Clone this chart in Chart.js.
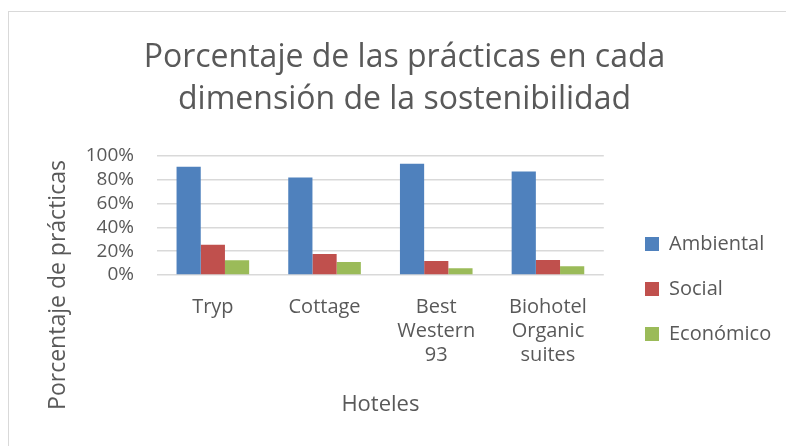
<!DOCTYPE html>
<html>
<head>
<meta charset="utf-8">
<script src="https://cdn.jsdelivr.net/npm/chart.js@4"></script>
<style>
  html, body { margin: 0; padding: 0; background: #fff; }
  #wrap { position: relative; width: 786px; height: 446px; }
  #marco { position: absolute; left: 8px; top: 11px; width: 800px; height: 460px;
           border-left: 1px solid #d9d9d9; border-top: 1px solid #d9d9d9; }
  canvas { position: absolute; left: 0; top: 0; }
</style>
</head>
<body>
<div id="wrap">
  <div id="marco"></div>
  <canvas id="grafico" width="786" height="446"></canvas>
</div>
<script>
// Datos
const hoteles = [['Tryp'], ['Cottage'], ['Best', 'Western', '93'], ['Biohotel', 'Organic', 'suites']];
const ambiental = [91, 82, 93.5, 87];
const social = [25.5, 17.7, 11.8, 12.6];
const economico = [12.4, 11, 5.6, 7.3];
const ticksY = [0, 20, 40, 60, 80, 100];

const gris = '#595959';
const fuente = 'Open Sans';

// mueve la leyenda a su sitio (caja del primer elemento en x=645, centro vertical ~289)
const moverLeyenda = {
    id: 'moverLeyenda',
    afterLayout(chart) {
        const ley = chart.legend;
        if (!ley) return;
        const pad = ley.options.labels.padding;
        const dx = (645 - pad) - ley.left;
        const dy = 289 - (ley.top + ley.bottom) / 2;
        ley.left += dx; ley.right += dx;
        ley.top += dy; ley.bottom += dy;
    }
};

// título del eje Y, más abajo que el centro del área del gráfico
const tituloEjeY = {
    id: 'tituloEjeY',
    afterDraw(chart) {
        const c = chart.ctx;
        c.save();
        c.translate(58, 285);
        c.rotate(-Math.PI / 2);
        c.font = '23px "' + fuente + '"';
        c.fillStyle = gris;
        c.textAlign = 'center';
        c.textBaseline = 'middle';
        c.fillText('Porcentaje de prácticas', 0, 0);
        c.restore();
    }
};

const ctx = document.getElementById('grafico').getContext('2d');
const grafico = new Chart(ctx, {
    type: 'bar',
    data: {
        labels: hoteles,
        datasets: [
            { label: 'Ambiental', data: ambiental, backgroundColor: '#4F81BD' },
            { label: 'Social', data: social, backgroundColor: '#C0504D' },
            { label: 'Económico', data: economico, backgroundColor: '#9BBB59' }
        ]
    },
    options: {
        responsive: false,
        animation: false,
        categoryPercentage: 0.65,
        barPercentage: 1,
        layout: { padding: { left: 44, right: 21, top: 0, bottom: 28 } },
        plugins: {
            title: {
                display: true,
                text: ['Porcentaje de las prácticas en cada', 'dimensión de la sostenibilidad'],
                color: gris,
                font: { family: fuente, size: 32, weight: 'normal', lineHeight: '42px' },
                padding: { top: 37, bottom: 35 }
            },
            legend: {
                position: 'right',
                labels: {
                    color: gris,
                    font: { family: fuente, size: 20 },
                    boxWidth: 14,
                    boxHeight: 14,
                    padding: 25
                }
            },
            tooltip: { enabled: false }
        },
        scales: {
            x: {
                afterFit: (eje) => { eje.height = 143; },
                grid: { display: false, drawTicks: false },
                border: { display: false },
                ticks: { color: gris, font: { family: fuente, size: 20, lineHeight: '24px' }, padding: 20, maxRotation: 0, autoSkip: false },
                title: { display: true, text: 'Hoteles', color: gris, font: { family: fuente, size: 22 }, padding: { top: 24, bottom: 0 } }
            },
            y: {
                min: 0,
                max: 100,
                afterBuildTicks: (eje) => { eje.ticks = ticksY.map(v => ({ value: v })); },
                afterFit: (eje) => { eje.width = 113; },
                grid: { color: '#d9d9d9', lineWidth: 1.5, drawTicks: false },
                border: { display: false },
                ticks: { color: gris, font: { family: fuente, size: 19 }, padding: 23, autoSkip: false, callback: v => v + '%' }
            }
        }
    },
    plugins: [moverLeyenda, tituloEjeY]
});
</script>
</body>
</html>
